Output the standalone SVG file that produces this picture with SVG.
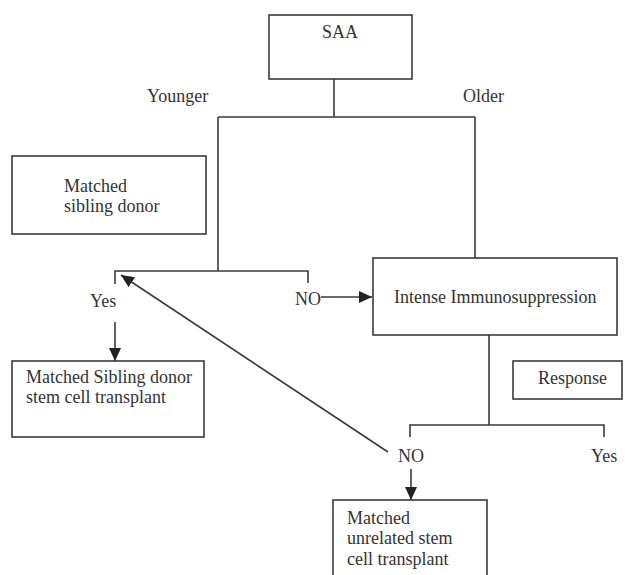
<svg xmlns="http://www.w3.org/2000/svg" width="628" height="575" viewBox="0 0 628 575">
<defs>
<style>
.box{fill:#fff;stroke:#3a3a3a;stroke-width:1.6}
.ln{fill:none;stroke:#3a3a3a;stroke-width:1.6}
text{font-family:"Liberation Serif","Times New Roman",serif;font-size:18px;fill:#333}
</style>
<marker id="ah" markerUnits="userSpaceOnUse" markerWidth="14" markerHeight="12" refX="13" refY="6" orient="auto">
<path d="M0,0 L13,6 L0,12 Z" fill="#222"/>
</marker>
</defs>
<rect width="628" height="575" fill="#fff"/>
<g id="connectors">
<path class="ln" d="M334 79 V117"/>
<path class="ln" d="M218 117 H475"/>
<path class="ln" d="M218 117 V271"/>
<path class="ln" d="M475 117 V258"/>
<path class="ln" d="M115 284 V271 H308 V283"/>
<path class="ln" d="M321 297 H372" marker-end="url(#ah)"/>
<path class="ln" d="M115 322 V361" marker-end="url(#ah)"/>
<path class="ln" d="M489 335 V425"/>
<path class="ln" d="M410 437 V425 H604 V437"/>
<path class="ln" d="M411 469 V500" marker-end="url(#ah)"/>
<path class="ln" d="M388 452 L121 275" marker-end="url(#ah)"/>
</g>
<g id="labels">
<text x="147" y="102">Younger</text>
<text x="463" y="102">Older</text>
<text x="90" y="307">Yes</text>
<text x="295" y="305">NO</text>
<text x="398" y="462">NO</text>
<text x="591" y="462">Yes</text>
</g>
<g id="saa">
<rect class="box" x="269" y="15" width="143" height="64"/>
<text x="340" y="38" text-anchor="middle">SAA</text>
</g>
<g id="sibling-donor">
<rect class="box" x="12" y="156" width="194" height="78"/>
<text x="64" y="192">Matched</text>
<text x="64" y="212">sibling donor</text>
</g>
<g id="immunosuppression">
<rect class="box" x="373" y="258" width="244" height="77"/>
<text x="394" y="303">Intense Immunosuppression</text>
</g>
<g id="response">
<rect class="box" x="513" y="361" width="109" height="38"/>
<text x="538" y="384">Response</text>
</g>
<g id="sibling-transplant">
<rect class="box" x="12" y="361" width="192" height="76"/>
<text x="26" y="383">Matched Sibling donor</text>
<text x="26" y="403">stem cell transplant</text>
</g>
<g id="unrelated-transplant">
<rect class="box" x="333" y="500" width="154" height="100"/>
<text x="347" y="524">Matched</text>
<text x="347" y="544">unrelated stem</text>
<text x="347" y="565">cell transplant</text>
</g>
</svg>
